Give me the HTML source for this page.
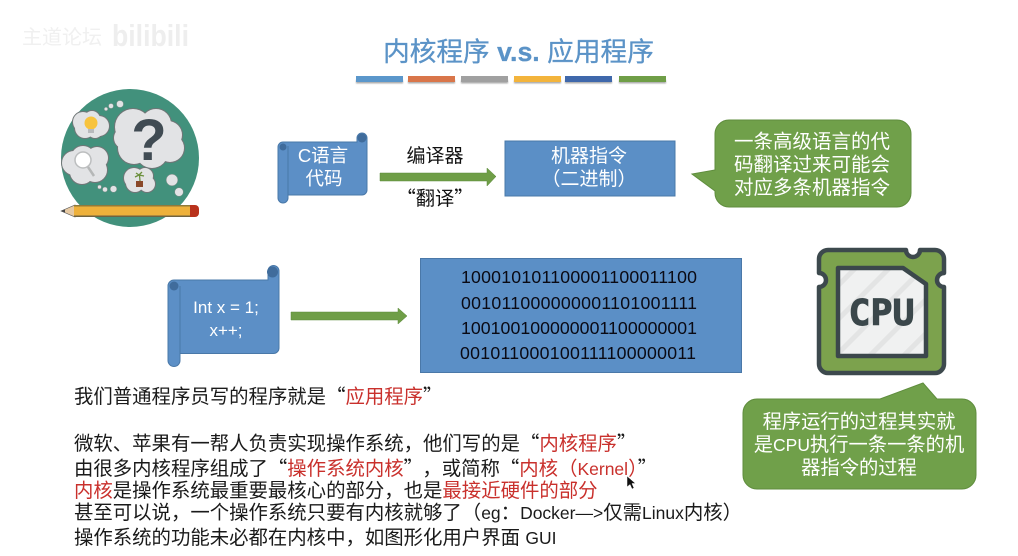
<!DOCTYPE html>
<html>
<head>
<meta charset="utf-8">
<style>
html,body{margin:0;padding:0;background:#fff;width:1018px;height:556px;overflow:hidden}
svg{display:block}
text{font-family:"Liberation Sans","Noto Sans CJK SC",sans-serif}
.q{font-family:"Noto Sans CJK SC",sans-serif}
.l{font-size:17.5px}
</style>
</head>
<body>
<svg width="1018" height="556" viewBox="0 0 1018 556" xmlns="http://www.w3.org/2000/svg">
<defs>
<filter id="s" x="-20%" y="-100%" width="140%" height="300%"><feGaussianBlur stdDeviation="0.8"/></filter>
<filter id="b" x="-5%" y="-5%" width="110%" height="110%"><feGaussianBlur stdDeviation="0.35"/></filter>
<pattern id="hatch" width="24" height="24" patternUnits="userSpaceOnUse" patternTransform="rotate(45)">
<rect width="24" height="24" fill="#f0f1f1"/><rect width="5" height="24" fill="#e3e4e4"/>
</pattern>
<g id="clouds">
<circle cx="133" cy="127" r="18"/><circle cx="156" cy="124" r="15"/><circle cx="168" cy="135" r="14"/><circle cx="170" cy="148" r="14"/><circle cx="152" cy="152" r="16"/><circle cx="134" cy="148" r="16"/><circle cx="125" cy="138" r="11"/><circle cx="150" cy="138" r="20"/>
<circle cx="99" cy="126" r="10"/><circle cx="85" cy="128" r="10"/><circle cx="83" cy="122" r="10"/><circle cx="92" cy="119" r="8"/><circle cx="95" cy="130" r="8"/><circle cx="91" cy="124" r="10"/>
<circle cx="74" cy="163" r="12"/><circle cx="83" cy="158" r="12"/><circle cx="97" cy="158" r="11"/><circle cx="95" cy="170" r="12"/><circle cx="82" cy="172" r="12"/><circle cx="86" cy="165" r="12"/>
<circle cx="134" cy="178" r="10"/><circle cx="145" cy="176" r="8"/><circle cx="147" cy="184" r="8"/><circle cx="135" cy="183" r="9"/><circle cx="140" cy="180" r="9"/>
</g>
</defs>
<rect width="1018" height="556" fill="#fff"/>

<!-- watermark -->
<text x="22" y="44" font-size="20" fill="#f0f0f0">主道论坛</text>
<text x="112" y="46" font-size="31" font-weight="bold" fill="#eeeeee" textLength="77" lengthAdjust="spacingAndGlyphs">bilibili</text>

<!-- title -->
<text x="383" y="61" font-size="26.700" fill="#5b93c7" stroke="#5b93c7" stroke-width="0.3">内核程序 <tspan font-weight="bold">v.s.</tspan> 应用程序</text>

<!-- colour bars -->
<g fill="#8a8a8a" filter="url(#s)" opacity="0.7">
<rect x="356" y="80" width="47" height="3.500"/><rect x="408" y="80" width="47" height="3.500"/><rect x="461" y="80" width="47" height="3.500"/><rect x="514" y="80" width="47" height="3.500"/><rect x="565" y="80" width="47" height="3.500"/><rect x="619" y="80" width="47" height="3.500"/>
</g>
<rect x="356" y="76" width="47" height="6" fill="#5b97cb"/>
<rect x="408" y="76" width="47" height="6" fill="#d9764a"/>
<rect x="461" y="76" width="47" height="6" fill="#a0a0a0"/>
<rect x="514" y="76" width="47" height="6" fill="#f3b43c"/>
<rect x="565" y="76" width="47" height="6" fill="#3f68ab"/>
<rect x="619" y="76" width="47" height="6" fill="#6f9e47"/>

<!-- think icon -->
<g filter="url(#b)">
<circle cx="130" cy="158" r="69" fill="#42917b"/>
<use href="#clouds" fill="#6f7677" stroke="#6f7677" stroke-width="2"/>
<use href="#clouds" fill="#e2e3e5"/>
<g fill="#e2e3e5" stroke="#7c8b86" stroke-width="0.5">
<circle cx="120" cy="104" r="3.500"/><circle cx="111" cy="106" r="2.500"/><circle cx="106" cy="109" r="1.800"/>
<circle cx="172" cy="180" r="5.800"/><circle cx="179" cy="192" r="4.300"/>
<circle cx="113.500" cy="189" r="3.300"/><circle cx="105" cy="189.500" r="2.500"/><circle cx="99.500" cy="187" r="2"/>
</g>
<circle cx="91" cy="123" r="6.500" fill="#f7c33d"/>
<rect x="88" y="129" width="6" height="4" fill="#b8babd"/>
<line x1="88" y1="167" x2="94" y2="176" stroke="#b5b7b7" stroke-width="2.500"/>
<circle cx="83" cy="160" r="8" fill="#fff" stroke="#bcbebf" stroke-width="1.500"/>
<text x="149" y="160" font-size="58" font-weight="bold" text-anchor="middle" fill="#3f4b52">?</text>
<rect x="136" y="181" width="7" height="6" fill="#8a4a2b"/>
<path d="M140 181l-0.500-6M139 175l-4 2M139 175l5 1M139 175l-3-2M139 175l3-3" stroke="#6a8f3a" stroke-width="1.300" fill="none"/>
<path d="M61 211l14-6v12z" fill="#e6c9a3" stroke="#555" stroke-width="0.600"/>
<path d="M61 211l4-1.500v3z" fill="#444"/>
<rect x="74" y="205" width="116" height="12" fill="#eeb13a"/>
<rect x="74" y="205" width="116" height="1.500" fill="#8f7a3a"/>
<rect x="74" y="215.500" width="116" height="1.500" fill="#6f6340"/>
<path d="M190 205h5a4 4 0 0 1 4 4v4a4 4 0 0 1-4 4h-5z" fill="#b9331f"/>
</g>

<!-- scroll 1 -->
<g filter="url(#b)">
<path d="M283 142h74v-4a5 5 0 0 1 10 0v52a5 5 0 0 1-5 5h-74v3a5 5 0 0 1-10 0v-51a5 5 0 0 1 5-5z" fill="#5b8fc6" stroke="#4a78a8" stroke-width="1"/>
<path d="M288 146v49" stroke="#4a78a8" stroke-width="1"/>
<circle cx="283" cy="147" r="3.500" fill="#3f6c9c"/>
<circle cx="362" cy="138" r="4.500" fill="#3f6c9c"/>
</g>
<text x="323" y="162" font-size="18.500" fill="#fff" text-anchor="middle">C语言</text>
<text x="324" y="185" font-size="18.500" fill="#fff" text-anchor="middle">代码</text>

<!-- arrow 1 -->
<path d="M380 173H487V168L496 176.500 487 186V181H380Z" fill="#6f9e47" stroke="#5b8a3a" stroke-width="0.500"/>
<text x="435" y="162" font-size="19" fill="#111" text-anchor="middle">编译器</text>
<text x="435" y="205" font-size="19.300" fill="#111" text-anchor="middle" class="q">“翻译”</text>

<!-- machine box -->
<rect x="505" y="141" width="170" height="55" fill="#5b8fc6" stroke="#4a78a8" stroke-width="1"/>
<text x="589" y="162" font-size="19" fill="#fff" text-anchor="middle">机器指令</text>
<text x="589" y="185" font-size="19" fill="#fff" text-anchor="middle">（二进制）</text>

<!-- callout 1 -->
<path d="M729 120H897a14 14 0 0 1 14 14V193a14 14 0 0 1-14 14H729a14 14 0 0 1-14-14V191L692 174 715 170V134a14 14 0 0 1 14-14Z" fill="#70a04a" stroke="#5f8d3d" stroke-width="1"/>
<text x="812" y="148" font-size="19.500" fill="#fff" text-anchor="middle">一条高级语言的代</text>
<text x="812" y="171" font-size="19.500" fill="#fff" text-anchor="middle">码翻译过来可能会</text>
<text x="812" y="194" font-size="19.500" fill="#fff" text-anchor="middle">对应多条机器指令</text>

<!-- scroll 2 -->
<g filter="url(#b)">
<path d="M174 280h94v-9a5.500 5.500 0 0 1 11 0v77a5.500 5.500 0 0 1-5.500 5.500H180v7a6 6 0 0 1-12 0v-75a6 6 0 0 1 6-5.500z" fill="#5b8fc6" stroke="#4a78a8" stroke-width="1"/>
<path d="M180 286v67" stroke="#4a78a8" stroke-width="1"/>
<circle cx="174" cy="286" r="4.500" fill="#3f6c9c"/>
<circle cx="272.500" cy="272" r="5.500" fill="#3f6c9c"/>
</g>
<text x="226" y="313" font-size="17" fill="#fff" text-anchor="middle">Int x = 1;</text>
<text x="226" y="336" font-size="17" fill="#fff" text-anchor="middle">x++;</text>

<!-- arrow 2 -->
<path d="M291 312H398V308L407 316 398 324V320H291Z" fill="#6f9e47" stroke="#5b8a3a" stroke-width="0.500"/>

<!-- binary box -->
<rect x="420.500" y="258.500" width="321" height="114" fill="#5b8fc6" stroke="#4a78a8" stroke-width="1"/>
<g font-size="17.700" fill="#0a0a14">
<text x="461" y="283" textLength="236">100010101100001100011100</text>
<text x="461" y="309" textLength="236">001011000000001101001111</text>
<text x="461" y="334" textLength="236">100100100000001100000001</text>
<text x="460" y="359" textLength="236">001011000100111100000011</text>
</g>

<!-- CPU icon -->
<g filter="url(#b)">
<path d="M828 250H906a7 7 0 0 0 14 0H935a9 9 0 0 1 9 9V273a7 7 0 0 0 0 14V364a9 9 0 0 1-9 9H828a9 9 0 0 1-9-9V287a7 7 0 0 0 0-14V259a9 9 0 0 1 9-9Z" fill="#7ba24e" stroke="#3d4a4e" stroke-width="4.500" stroke-linejoin="round"/>
<path d="M838 268H903L926 284V356H838Z" fill="url(#hatch)" stroke="#3a474b" stroke-width="4.500" stroke-linejoin="round"/>
<text x="881.500" y="325" font-size="36" font-weight="bold" fill="#3a474b" stroke="#3a474b" stroke-width="1" text-anchor="middle" style="font-family:'DejaVu Sans Mono','Liberation Mono',monospace" textLength="66" lengthAdjust="spacingAndGlyphs">CPU</text>
</g>

<!-- callout 2 -->
<path d="M757 399H880L923 383 937 399H962a14 14 0 0 1 14 14V475a14 14 0 0 1-14 14H757a14 14 0 0 1-14-14V413a14 14 0 0 1 14-14Z" fill="#70a04a" stroke="#5f8d3d" stroke-width="1"/>
<text x="859" y="428" font-size="19.300" fill="#fff" text-anchor="middle">程序运行的过程其实就</text>
<text x="859" y="451" font-size="19.300" fill="#fff" text-anchor="middle"><tspan>是</tspan><tspan class="l">CPU</tspan><tspan>执行一条一条的机</tspan></text>
<text x="859" y="474" font-size="19.300" fill="#fff" text-anchor="middle">器指令的过程</text>

<!-- body text -->
<g font-size="19.400" fill="#1a1a1a">
<text x="74" y="403">我们普通程序员写的程序就是<tspan class="q">“</tspan><tspan fill="#c9302c">应用程序</tspan><tspan class="q">”</tspan></text>
<text x="74" y="450">微软、苹果有一帮人负责实现操作系统，他们写的是<tspan class="q">“</tspan><tspan fill="#c9302c">内核程序</tspan><tspan class="q">”</tspan></text>
<text x="74" y="475">由很多内核程序组成了<tspan class="q">“</tspan><tspan fill="#c9302c">操作系统内核</tspan><tspan class="q">”</tspan><tspan dx="9">，</tspan>或简称<tspan class="q">“</tspan><tspan fill="#c9302c">内核（<tspan class="l">Kernel</tspan>）</tspan><tspan class="q">”</tspan></text>
<text x="74" y="497"><tspan fill="#c9302c">内核</tspan>是操作系统最重要最核心的部分，也是<tspan fill="#c9302c">最接近硬件的部分</tspan></text>
<text x="74" y="519">甚至可以说，一个操作系统只要有内核就够了（<tspan class="l">eg</tspan>：<tspan class="l">Docker—&gt;</tspan>仅需<tspan class="l">Linux</tspan>内核）</text>
<text x="74" y="544">操作系统的功能未必都在内核中，如图形化用户界面 <tspan class="l">GUI</tspan></text>
</g>

<!-- cursor -->
<path d="M627 476L627 487 630 484.500 632 489 634 488 632 483.500 635.500 483.500Z" fill="#111" stroke="#fff" stroke-width="0.500"/>
</svg>
</body>
</html>
